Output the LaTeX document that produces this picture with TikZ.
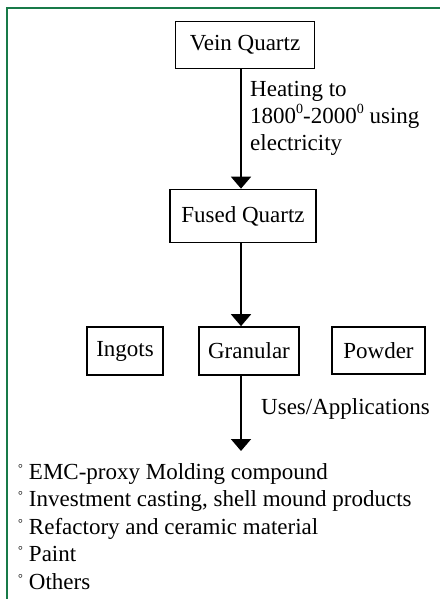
\documentclass[tikz,border=0pt]{standalone}
\usepackage{fontspec}
\setmainfont{Liberation Serif}
\usetikzlibrary{positioning,arrows.meta}

\definecolor{framegreen}{RGB}{24,122,72}
\newcommand{\usebullet}{\raisebox{0.3em}{\fontsize{12}{12}\selectfont\char"00B0}\hspace{6pt}}
\newcommand{\degsup}{\raisebox{0.42em}{\fontsize{14}{14}\selectfont 0}}

\begin{document}
\begin{tikzpicture}[x=1pt,y=-1pt,font=\fontsize{23}{27}\selectfont,
  box/.style={draw,line width=1.7pt,inner sep=0pt},
  flow/.style={line width=1.9pt,-{Triangle[width=20pt,length=12pt]}}]
  \useasboundingbox (0,0) rectangle (440,599);
  % outer frame (open at right and bottom)
  \draw[framegreen,line width=2pt] (7,599) -- (7,8) -- (440,8);
  % main chain
  \node[box,minimum width=139,minimum height=47] (vein) at (245,45) {Vein Quartz};
  \node[box,minimum width=146,minimum height=53] (fused) at (243,216) {Fused Quartz};
  \node[box,minimum width=76,minimum height=48] (ingots) at (125,351) {Ingots};
  \node[box,minimum width=100,minimum height=48] (granular) at (249,351) {Granular};
  \node[box,minimum width=93,minimum height=47] (powder) at (378.5,350.5) {Powder};
  \coordinate (usestop) at (241,451);
  \draw[flow] (vein.south -| usestop) -- (fused.north -| usestop);
  \draw[flow] (fused.south -| usestop) -- (granular.north -| usestop);
  \draw[flow] (granular.south -| usestop) -- (usestop);
  % labels
  \node[anchor=north west,align=left,inner sep=0pt,font=\fontsize{23}{27}\selectfont] (heat) at (250,81)
    {Heating to\\1800\degsup-2000\degsup\ using\\electricity};
  \node[anchor=base west,inner sep=0pt] (uses) at (261,414) {Uses/Applications};
  % list of uses
  \node[anchor=north west,align=left,inner sep=0pt,font=\fontsize{23}{27.5}\selectfont] (list) at (18,463)
    {\usebullet EMC-proxy Molding compound\\
     \usebullet Investment casting, shell mound products\\
     \usebullet Refactory and ceramic material\\
     \usebullet Paint\\
     \usebullet Others};
\end{tikzpicture}
\end{document}
